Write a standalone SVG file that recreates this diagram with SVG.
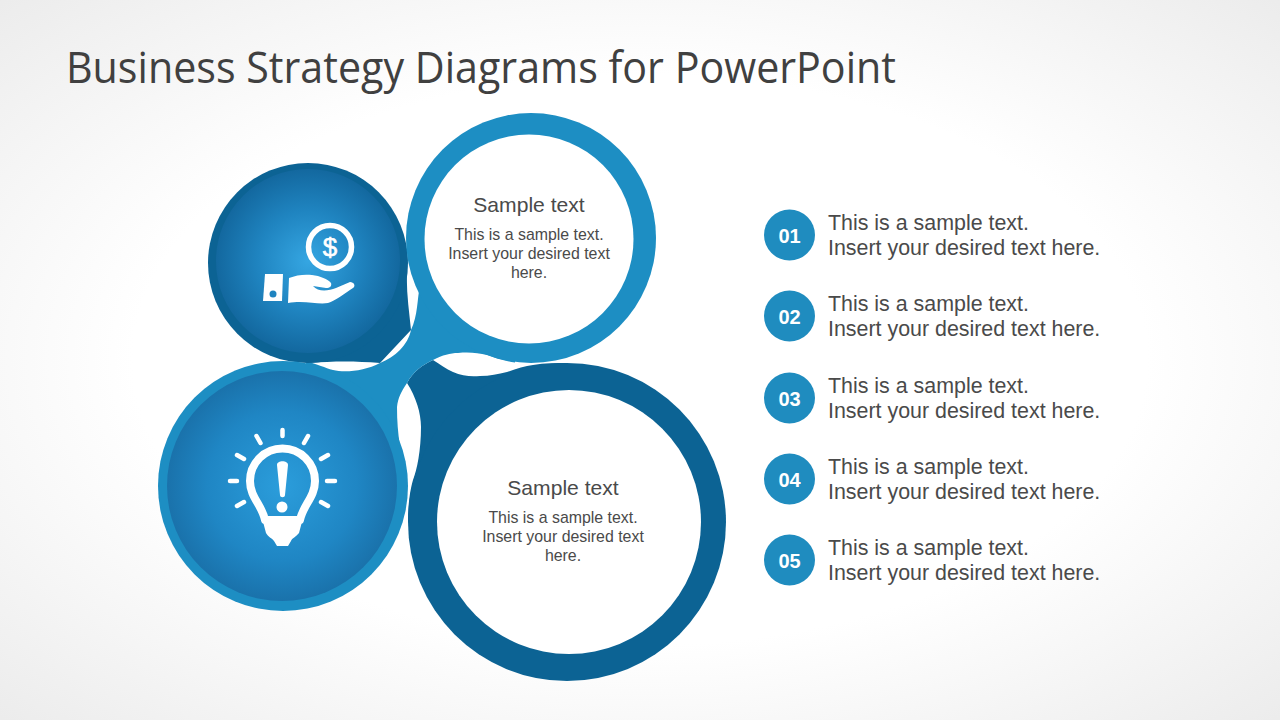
<svg xmlns="http://www.w3.org/2000/svg" width="1280" height="720" viewBox="0 0 1280 720">
<style>
.med{fill:#1d8ec3}.dark{fill:#0c6394}.white{fill:#fff}
.t{font-family:"Liberation Sans",Arial,sans-serif;fill:#4a4a4a}
.h{font-size:21.1px;text-anchor:middle}
.b{font-size:15.9px;text-anchor:middle}
.l{font-size:21.4px}
.n{font-family:"Liberation Sans",Arial,sans-serif;font-weight:700;font-size:20px;fill:#fff;text-anchor:middle}
.ray{stroke:#fff;stroke-width:4.5;stroke-linecap:round;fill:none}
.bul{fill:#1f8cbf}
</style>
<defs>
<radialGradient id="bg" cx="50%" cy="50%" r="72%"><stop offset="0.55" stop-color="#fff"/><stop offset="1" stop-color="#ebebeb"/></radialGradient>
<radialGradient id="g1"><stop offset="0" stop-color="#35a6e2"/><stop offset="0.55" stop-color="#1f84c0"/><stop offset="1" stop-color="#13689f"/></radialGradient>
<radialGradient id="g2"><stop offset="0" stop-color="#2b9ddb"/><stop offset="0.65" stop-color="#1f86c4"/><stop offset="1" stop-color="#1a72ab"/></radialGradient>
</defs>
<rect width="1280" height="720" fill="url(#bg)"/>
<text x="66" y="83" font-family="'Open Sans',sans-serif" font-size="43" fill="#404040" textLength="830" lengthAdjust="spacingAndGlyphs">Business Strategy Diagrams for PowerPoint</text>
<g id="connectors">
<path class="dark" d="M400,235 L407,270 C406,290 409,310 411,330 L380,363 C355,361 335,361 308,363 Z"/>
<path class="dark" d="M433,360 C440,364 446,369 453,372 C462,376 471,377 480,376 C490,376 498,374 507,372 C516,369 525,366 533,365 C545,363 555,363 567,363 L480,500 L408,522 C408,505 410,490 413,480 C417,470 421,450 421,427 C421,413 416,397 407,383 C413,372 422,365 433,360 Z"/>
<path class="med" d="M420,285 C417,300 418,315 411,330 C408,345 395,357 380,363 C365,371 345,373 333,370 C325,368 318,364 305,361 L350,470 L407,480 C401,455 397,435 397,407 C398,398 401,392 407,383 C413,372 422,365 433,360 C443,355 450,353 458,353 C470,352 478,353 487,355 C495,358 505,361 515,362.500 L520,300 Z"/>
</g>
<g id="node-finance">
<circle class="dark" cx="308" cy="263" r="100"/>
<circle cx="308" cy="261" r="92" fill="url(#g1)"/>
<circle cx="330" cy="247" r="21.5" fill="none" stroke="#fff" stroke-width="5.5"/>
<text x="330" y="256" font-family="'Liberation Sans',sans-serif" font-size="26" fill="#fff" stroke="#fff" stroke-width="0.6" text-anchor="middle">$</text>
<path class="white" d="M265,274 L283,274 L282,301 L263,301 Z"/>
<circle cx="273" cy="294" r="3.5" fill="#1f84c0"/>
<path class="white" d="M289,278 C296,275 305,274 312,275 C320,276 328,279 331,283 C332,286 330,288 326,288 L313,286 C318,292 328,291 336,288 L350,282 C354,282 356,286 353,288 C345,293 335,301 328,303 C318,305 305,300 288,303 Z"/>
</g>
<g id="node-idea">
<circle class="med" cx="283" cy="486" r="125"/>
<circle cx="282" cy="486" r="115" fill="url(#g2)"/>
<path d="M265,520 C262,505 250,497 250,481 A32.500,32.500 0 0 1 315,481 C315,497 303,505 300,520 Z" fill="none" stroke="#fff" stroke-width="8" stroke-linejoin="round"/>
<path class="white" d="M262,518 H303 L299,533 C296,537 292,538 291,541 L288,546 H277 L274,541 C272,538 268,537 266,533 Z"/>
<path class="white" d="M277,465 C277,460 288,460 288,465 L285,495 C285,498 280,498 280,495 Z"/>
<circle class="white" cx="282" cy="507" r="5.500"/>
<path class="ray" d="M282.500,430V436M256.500,436L260.500,443M308,436L304,443M237,455L244,459M328,455L321,459M230,481H237M327,481H335M237,506L244,502M328,506L321,502"/>
</g>
<g id="node-top">
<circle class="med" cx="531" cy="238" r="125"/>
<circle class="white" cx="529" cy="239" r="104.500"/>
<text class="t h" x="529" y="212">Sample text</text>
<text class="t b" x="529" y="240">This is a sample text.</text>
<text class="t b" x="529" y="259">Insert your desired text</text>
<text class="t b" x="529" y="278">here.</text>
</g>
<g id="node-bottom">
<circle class="dark" cx="567" cy="522" r="159"/>
<circle class="white" cx="569" cy="522" r="132"/>
<text class="t h" x="563" y="495">Sample text</text>
<text class="t b" x="563" y="523">This is a sample text.</text>
<text class="t b" x="563" y="542">Insert your desired text</text>
<text class="t b" x="563" y="561">here.</text>
</g>
<g id="item-01"><circle class="bul" cx="789.500" cy="235" r="25.500"/><text class="n" x="789.500" y="242.500">01</text><text class="t l" x="828" y="230">This is a sample text.</text><text class="t l" x="828" y="255">Insert your desired text here.</text></g>
<g id="item-02"><circle class="bul" cx="789.500" cy="316" r="25.500"/><text class="n" x="789.500" y="323.500">02</text><text class="t l" x="828" y="311">This is a sample text.</text><text class="t l" x="828" y="336">Insert your desired text here.</text></g>
<g id="item-03"><circle class="bul" cx="789.500" cy="398" r="25.500"/><text class="n" x="789.500" y="405.500">03</text><text class="t l" x="828" y="393">This is a sample text.</text><text class="t l" x="828" y="418">Insert your desired text here.</text></g>
<g id="item-04"><circle class="bul" cx="789.500" cy="479" r="25.500"/><text class="n" x="789.500" y="486.500">04</text><text class="t l" x="828" y="474">This is a sample text.</text><text class="t l" x="828" y="499">Insert your desired text here.</text></g>
<g id="item-05"><circle class="bul" cx="789.500" cy="560" r="25.500"/><text class="n" x="789.500" y="567.500">05</text><text class="t l" x="828" y="555">This is a sample text.</text><text class="t l" x="828" y="580">Insert your desired text here.</text></g>
</svg>
